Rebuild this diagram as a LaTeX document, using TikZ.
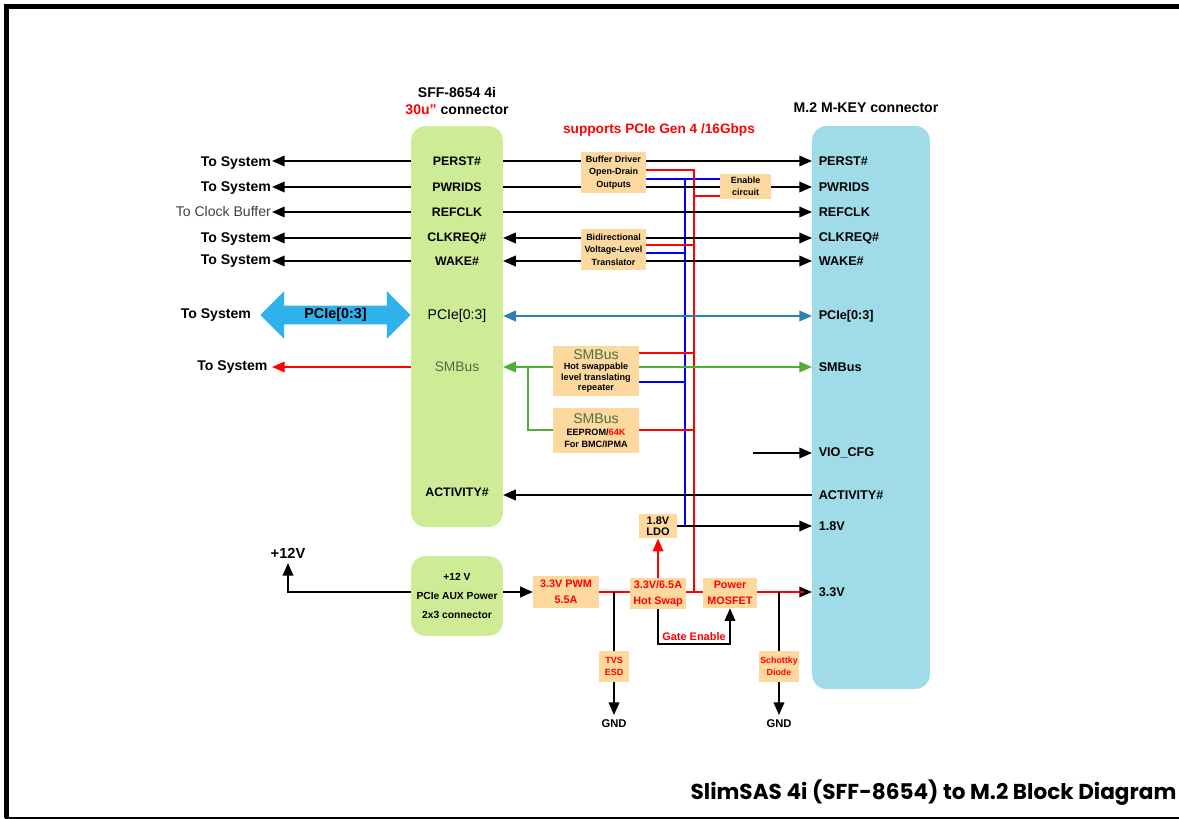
\documentclass[tikz,border=0pt]{standalone}
\usepackage{fontspec}
\setmainfont{Liberation Sans}
\newfontfamily\titlefont{Poppins}
\usetikzlibrary{arrows.meta,shapes.arrows}
\definecolor{blockgreen}{HTML}{CEEB95}
\definecolor{blockblue}{HTML}{A0DCE8}
\definecolor{boxorange}{HTML}{FDD9A0}
\definecolor{busblue}{HTML}{2D7FB8}
\definecolor{busgreen}{HTML}{52AE32}
\definecolor{fatblue}{HTML}{2FB1EC}
\definecolor{smbgreen}{HTML}{4A6F45}
\tikzset{
	x=0.025cm,y=-0.025cm,
	wire/.style={line width=1.3pt},
	sig/.style={wire,-{Triangle[length=9pt,width=7.5pt]}},
	sigboth/.style={wire,{Triangle[length=9pt,width=7.5pt]}-{Triangle[length=9pt,width=7.5pt]}},
	ctl/.style={line width=1.1pt},
	pinl/.style={minimum width=65.2pt,minimum height=10pt,inner sep=0pt,font=\bfseries\fontsize{8.8}{10}\selectfont},
	pinr/.style={anchor=west,inner xsep=4.6pt,inner ysep=0pt,font=\bfseries\fontsize{9}{10}\selectfont},
	sysl/.style={anchor=east,inner xsep=0.6pt,inner ysep=0pt,font=\bfseries\fontsize{10}{11}\selectfont},
	box/.style={fill=boxorange,inner sep=0pt,align=center},
	boxs/.style={box,font=\bfseries\fontsize{6.4}{8.9}\selectfont},
	boxm/.style={box,text=red,font=\bfseries\fontsize{7.7}{11}\selectfont},
}
\begin{document}
\begin{tikzpicture}
	\useasboundingbox (0,0) rectangle (1179,819);
	\draw [line width=3.5pt] (1179,6.5) -- (6.5,6.5) -- (6.5,818);
	\draw [line width=1.5pt] (5,818) -- (1179,818);

	% blocks
	\draw (457,326.5) node [fill=blockgreen,rounded corners=10pt,minimum width=65.2pt,minimum height=285pt,inner sep=0pt] (sff) {};
	\draw (871,407.5) node [fill=blockblue,rounded corners=10pt,minimum width=83.6pt,minimum height=400.3pt,inner sep=0pt] (mkey) {};
	\draw (457,596) node [fill=blockgreen,rounded corners=10pt,minimum width=65.2pt,minimum height=56.7pt,inner sep=0pt,align=center,font=\bfseries\fontsize{7.3}{13.4}\selectfont] (aux) {+12 V\\PCIe AUX Power\\2x3 connector};

	% headings
	\draw (457,101) node [align=center,font=\bfseries\fontsize{10}{12.5}\selectfont] (sfftitle) {SFF-8654 4i\\{\color{red}30u''} connector};
	\draw (866,108) node [font=\bfseries\fontsize{10}{11}\selectfont] (mkeytitle) {M.2 M-KEY connector};
	\draw (659,130) node [text=red,font=\bfseries\fontsize{9.7}{11}\selectfont] (gen) {supports PCIe Gen 4 /16Gbps};
	\draw (933.5,793) node [font=\titlefont\bfseries\fontsize{15.35}{18}\selectfont] (title) {SlimSAS 4i (SFF-8654) to M.2 Block Diagram};

	% left pins
	\draw (457,161) node [pinl] (perstl) {PERST\#};
	\draw (457,187) node [pinl] (pwridsl) {PWRIDS};
	\draw (457,212) node [pinl] (refclkl) {REFCLK};
	\draw (457,238) node [pinl] (clkreql) {CLKREQ\#};
	\draw (457,261) node [pinl] (wakel) {WAKE\#};
	\draw (457,316) node [pinl,font=\fontsize{10}{11}\selectfont] (pciel) {PCIe[0:3]};
	\draw (457,367) node [pinl,text=smbgreen,font=\fontsize{9.8}{11}\selectfont] (smbl) {SMBus};
	\draw (457,492) node [pinl] (actl) {ACTIVITY\#};

	% right pins
	\draw (812,161) node [pinr] (perstr) {PERST\#};
	\draw (812,187) node [pinr] (pwridsr) {PWRIDS};
	\draw (812,212) node [pinr] (refclkr) {REFCLK};
	\draw (812,238) node [pinr] (clkreqr) {CLKREQ\#};
	\draw (812,261) node [pinr] (waker) {WAKE\#};
	\draw (812,316) node [pinr] (pcier) {PCIe[0:3]};
	\draw (812,367) node [pinr] (smbr) {SMBus};
	\draw (812,453) node [pinr] (vior) {VIO\_CFG};
	\draw (812,495) node [pinr] (actr) {ACTIVITY\#};
	\draw (812,526) node [pinr] (ldor) {1.8V};
	\draw (812,592) node [pinr] (vccr) {3.3V};

	% system side
	\draw (272,163) node [sysl] (sysa) {To System};
	\draw (272,188) node [sysl] (sysb) {To System};
	\draw (272,211) node [sysl,font=\fontsize{10}{11}\selectfont,text=black!75] (sysc) {To Clock Buffer};
	\draw (272,239) node [sysl] (sysd) {To System};
	\draw (272,261) node [sysl] (syse) {To System};
	\draw (252,315) node [sysl] (sysf) {To System};
	\draw (272,367) node [sysl,inner xsep=3pt] (sysg) {To System};
	\draw (335.5,315) node [double arrow,fill=fatblue,minimum height=107pt,minimum width=34pt,double arrow head extend=8.5pt,inner xsep=0pt,inner ysep=0.6pt,font=\bfseries\fontsize{10.2}{11}\selectfont] (fat) {PCIe[0:3]\hspace{5pt}};

	% boxes
	\draw (613.5,172.5) node [boxs,minimum width=46.2pt,minimum height=29pt] (buffer) {Buffer Driver\\Open-Drain\\Outputs};
	\draw (745.5,186.5) node [boxs,minimum width=36.2pt,minimum height=17.7pt] (enable) {Enable\\circuit};
	\draw (613.5,249.5) node [boxs,minimum width=46.2pt,minimum height=29pt] (bidir) {Bidirectional\\Voltage-Level\\Translator};
	\draw (596,371) node [box,minimum width=61pt,minimum height=35.5pt,font=\bfseries\fontsize{6.5}{7.4}\selectfont] (repeater) {{\fontsize{10}{10}\selectfont\mdseries\color{smbgreen}SMBus}\\Hot swappable\\level translating\\repeater};
	\draw (596,430.5) node [box,minimum width=61pt,minimum height=32pt,font=\bfseries\fontsize{6.5}{8.4}\selectfont] (eeprom) {{\fontsize{10}{10}\selectfont\mdseries\color{smbgreen}SMBus}\\EEPROM/{\color{red}64K}\\For BMC/IPMA};
	\draw (658,526) node [box,minimum width=27pt,minimum height=17.7pt,font=\bfseries\fontsize{7.8}{8}\selectfont] (ldo) {1.8V\\LDO};
	\draw (566,592) node [boxm,minimum width=46.8pt,minimum height=22.7pt] (pwm) {3.3V PWM\\5.5A};
	\draw (658,593.5) node [boxm,minimum width=39.7pt,minimum height=22pt] (hotswap) {3.3V/6.5A\\Hot Swap};
	\draw (730,593) node [boxm,minimum width=38.3pt,minimum height=21.3pt] (mosfet) {Power\\MOSFET};
	\draw (614,666.5) node [boxm,font=\bfseries\fontsize{6.4}{8.6}\selectfont,minimum width=22pt,minimum height=22pt] (tvs) {TVS\\ESD};
	\draw (779,666.5) node [boxm,font=\bfseries\fontsize{6.3}{8.6}\selectfont,minimum width=29pt,minimum height=22pt] (schottky) {Schottky\\Diode};

	% free ends
	\coordinate (vioin) at (753,453);
	\coordinate (bend) at (288,592);
	\coordinate (hotb) at (658,644);
	\coordinate (mosb) at (730,644);
	\coordinate (tvstap) at (614,592);
	\coordinate (schtap) at (779,592);
	\coordinate (vcctip) at (804,592);
	\coordinate (redtop) at (694,170);
	\coordinate (redbot) at (694,592);
	\coordinate (bluetop) at (685,179);
	\coordinate (bluebot) at (685,526);
	\coordinate (greentap) at (528,367);
	\coordinate (greenbot) at (528,430);

	\draw (288,553) node [font=\bfseries\fontsize{10.4}{11}\selectfont] (plus) {+12V};
	\draw (614,724) node [font=\bfseries\fontsize{8}{9}\selectfont] (gnda) {GND};
	\draw (779,724) node [font=\bfseries\fontsize{8}{9}\selectfont] (gndb) {GND};
	\draw (694,637) node [text=red,font=\bfseries\fontsize{7.8}{9}\selectfont] (gate) {Gate Enable};

	% control rails
	\draw [ctl,blue] (buffer.east |- bluetop) -- (enable.west |- bluetop);
	\draw [ctl,blue] (bluetop) -- (bluebot);
	\draw [ctl,blue] (bidir.east |- 0,253) -- (bluetop |- 0,253);
	\draw [ctl,blue] (repeater.east |- 0,382) -- (bluetop |- 0,382);
	\draw [ctl,red] (buffer.east |- redtop) -- (redtop) -- (redbot);
	\draw [ctl,red] (enable.west |- 0,196) -- (redtop |- 0,196);
	\draw [ctl,red] (bidir.east |- 0,245) -- (redtop |- 0,245);
	\draw [ctl,red] (repeater.east |- 0,353) -- (redtop |- 0,353);
	\draw [ctl,red] (eeprom.east |- 0,430) -- (redtop |- 0,430);

	% signals, left part
	\draw [sig] (perstl) -- (perstl -| sysa.east);
	\draw [sig] (pwridsl) -- (pwridsl -| sysb.east);
	\draw [sig] (refclkl) -- (refclkl -| sysc.east);
	\draw [sig] (clkreql) -- (clkreql -| sysd.east);
	\draw [sig] (wakel) -- (wakel -| syse.east);
	\draw [sig,red] (smbl) -- (smbl -| sysg.east);

	% signals, through the boxes
	\draw [wire] (perstl) -- (buffer.west |- perstl);
	\draw [sig] (buffer.east |- perstl) -- (perstr);
	\draw [wire] (pwridsl) -- (buffer.west |- pwridsl);
	\draw [wire] (buffer.east |- pwridsl) -- (enable.west |- pwridsl);
	\draw [sig] (enable.east |- pwridsr) -- (pwridsr);
	\draw [sig] (refclkl) -- (refclkr);
	\draw [sig] (bidir.west |- clkreql) -- (clkreql);
	\draw [sig] (bidir.east |- clkreql) -- (clkreqr);
	\draw [sig] (bidir.west |- wakel) -- (wakel);
	\draw [sig] (bidir.east |- wakel) -- (waker);
	\draw [sigboth,busblue] (pciel) -- (pcier);
	\draw [sig,busgreen] (repeater.west |- smbl) -- (smbl);
	\draw [sig,busgreen] (repeater.east |- smbr) -- (smbr);
	\draw [wire,busgreen] (greentap) -- (greenbot) -- (eeprom.west |- greenbot);
	\draw [sig] (vioin) -- (vior);
	\draw [sig] (actr) -- (sff.east |- actr);
	\draw [sig] (ldo.east) -- (ldor);

	% power
	\draw [sig] (aux.east |- pwm) -- (pwm);
	\draw [sig] (aux.west |- bend) -- (bend) -- (plus);
	\draw [wire,red] (pwm.east) -- (hotswap.west |- pwm);
	\draw [wire,red] (hotswap.east |- pwm) -- (mosfet.west |- pwm);
	\draw [sig,red] (hotswap) -- (ldo);
	\draw [sig] (mosfet.east |- vccr) -- (vccr);
	\draw [wire,red] (mosfet.east |- vccr) -- (vcctip);
	\draw [wire] (tvstap) -- (tvs);
	\draw [sig] (tvs) -- (gnda);
	\draw [wire] (schtap) -- (schottky);
	\draw [sig] (schottky) -- (gndb);
	\draw [sig] (hotswap.south) -- (hotb) -- (mosb) -- (mosfet.south);
\end{tikzpicture}
\end{document}
